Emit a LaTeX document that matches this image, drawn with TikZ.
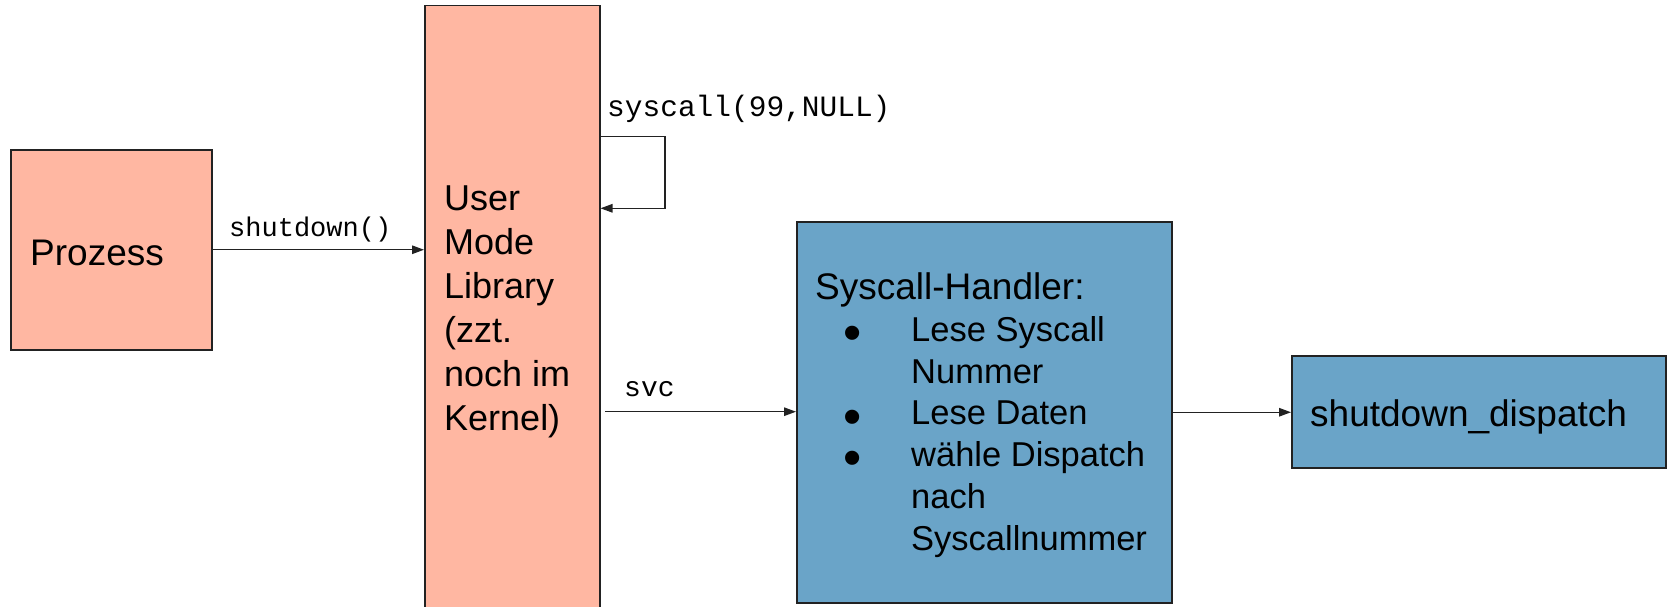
\documentclass[tikz,border=0pt]{standalone}
\usepackage{fontspec}
\setmainfont{Liberation Sans}
\setmonofont{Liberation Mono}
\usetikzlibrary{arrows.meta}
\definecolor{salmon}{HTML}{FFB7A2}
\definecolor{steel}{HTML}{6AA4C8}
\definecolor{edgec}{HTML}{222222}
\newcommand{\hbul}{\makebox[96pt][l]{\hspace{27.9pt}\raisebox{-9.2pt}{\fontsize{52pt}{52pt}\selectfont •}}}
\newcommand{\hind}{\hspace*{96pt}}
\tikzset{
  box/.style={draw=edgec, line width=1.5pt, inner sep=0pt, anchor=north west},
  txt/.style={inner sep=0pt, anchor=base west, text=black},
  big/.style={font=\fontsize{37pt}{41.7pt}\selectfont},
  mono/.style={inner sep=0pt, anchor=base west, font=\ttfamily\fontsize{29.5pt}{33pt}\selectfont},
  arr/.style={draw=edgec, line width=1.3pt, -{Triangle[length=12pt,width=8.5pt]}}
}
\begin{document}
\begin{tikzpicture}[x=1pt,y=-1pt]
\clip (0,0) rectangle (1669,607);
\fill[white] (0,0) rectangle (1669,607);
% boxes
\node[box, fill=salmon, minimum width=201pt, minimum height=200pt] (proz) at (10,149) {};
\node[box, fill=salmon, minimum width=175pt, minimum height=640pt] (uml) at (424,5) {};
\node[box, fill=steel, minimum width=375pt, minimum height=381pt] (handler) at (796,221) {};
\node[box, fill=steel, minimum width=374pt, minimum height=112pt] (dispatch) at (1291,355) {};
% texts (multi-line nodes: base anchor = baseline of last line)
\node[txt, big] (tproz) at (30,265) {Prozess};
\node[txt, align=left, font=\fontsize{36pt}{44pt}\selectfont] (tuml) at (444,430.7) {User\\Mode\\Library\\(zzt.\\noch im\\Kernel)};
\node[txt, big] (thead) at (815,299.3) {Syscall-Handler:};
\node[txt, align=left, font=\fontsize{34.5pt}{41.7pt}\selectfont] (titems) at (815,550) {\hbul Lese Syscall\\\hind Nummer\\\hbul Lese Daten\\\hbul wähle Dispatch\\\hind nach\\\hind Syscallnummer};
\node[txt, big] (tdispatch) at (1310,426) {shutdown\_dispatch};
% connector labels
\node[mono, font=\ttfamily\fontsize{27pt}{31pt}\selectfont] (lshut) at (229,236.7) {shutdown()};
\node[mono] (lsys) at (607,116.7) {syscall(99,NULL)};
\node[mono, font=\ttfamily\fontsize{28pt}{31pt}\selectfont] (lsvc) at (624,396) {svc};
% connectors
\draw[arr] (proz.east) -- (proz.east -| uml.west);
\coordinate (loopa) at (599,136.7);
\coordinate (loopb) at (665,208.3);
\draw[arr] (loopa -| uml.east) -| (loopb) -- (loopb -| uml.east);
\coordinate (svcstart) at (605,411.7);
\draw[arr] (svcstart) -- (svcstart -| handler.west);
\draw[arr] (handler.east) -- (handler.east -| dispatch.west);
\end{tikzpicture}
\end{document}
